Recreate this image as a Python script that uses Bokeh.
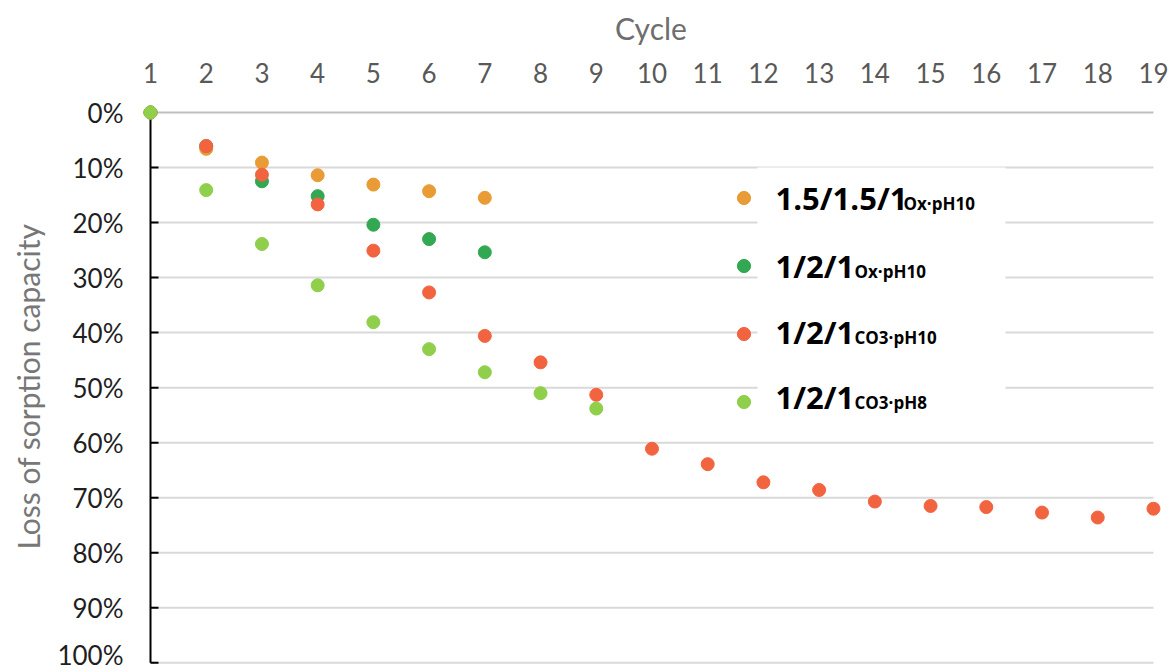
from bokeh.plotting import figure
from bokeh.models import (Range1d, FixedTicker, PrintfTickFormatter, Label,
                          BoxAnnotation, Legend, LegendItem)
from bokeh.embed import file_html
from bokeh.resources import INLINE

# ---------------- data ----------------
cycles = list(range(1, 20))
y_ticks = [0, 10, 20, 30, 40, 50, 60, 70, 80, 90, 100]

labels_main = ["1.5/1.5/1", "1/2/1", "1/2/1", "1/2/1"]
labels_sub = ["Ox·pH10", "Ox·pH10", "CO3·pH10", "CO3·pH8"]

loss_15_15_1_ox_ph10 = [0, 6.6, 9.1, 11.4, 13.1, 14.3, 15.5]
loss_1_2_1_ox_ph10 = [0, 6.1, 12.5, 15.2, 20.4, 23.0, 25.4]
loss_1_2_1_co3_ph10 = [0, 6.1, 11.3, 16.7, 25.1, 32.7, 40.6, 45.4, 51.3, 61.1,
                       63.9, 67.2, 68.6, 70.7, 71.5, 71.7, 72.7, 73.6, 72.0]
loss_1_2_1_co3_ph8 = [0, 14.1, 23.9, 31.4, 38.1, 43.0, 47.2, 51.0, 53.8]

series = [loss_15_15_1_ox_ph10, loss_1_2_1_ox_ph10, loss_1_2_1_co3_ph10, loss_1_2_1_co3_ph8]
colors = ["#E99B35", "#33A852", "#F26440", "#8FCF4B"]

# ---------------- layout ----------------
W, H = 1170, 670
ML, MR, MT, MB = 136, 5, 104, 2
PX_X = 55.72     # pixels per cycle
PX_Y = 5.503     # pixels per percent
ORIGIN_X, ORIGIN_Y = 150, 112   # canvas pixel of (cycle 1, 0%)
frame_w = W - ML - MR
frame_h = H - MT - MB
x_start = cycles[0] - (ORIGIN_X - ML) / PX_X
x_end = x_start + frame_w / PX_X
y_top = -(ORIGIN_Y - MT) / PX_Y
y_bottom = y_top + frame_h / PX_Y


def xd(px):
    return cycles[0] + (px - ORIGIN_X) / PX_X


def yd(py):
    return (py - ORIGIN_Y) / PX_Y


p = figure(width=W, height=H, x_range=Range1d(x_start, x_end),
           y_range=Range1d(y_bottom, y_top), x_axis_location="above",
           output_backend="svg", toolbar_location=None,
           min_border_left=ML, min_border_right=MR, min_border_top=MT, min_border_bottom=MB)
p.outline_line_color = None
p.grid.visible = False
p.background_fill_color = "white"
p.border_fill_color = "white"

AX_FONT = "Lato"

# x axis (top)
xa = p.xaxis[0]
xa.ticker = FixedTicker(ticks=cycles)
xa.axis_line_color = None
xa.major_tick_line_color = None
xa.minor_tick_line_color = None
xa.major_tick_in = 0
xa.major_tick_out = 0
xa.minor_tick_out = 0
xa.major_label_text_font = AX_FONT
xa.major_label_text_font_size = "26px"
xa.major_label_text_color = "#595959"
xa.major_label_standoff = 22
xa.axis_label = "Cycle"
xa.axis_label_text_font = AX_FONT
xa.axis_label_text_font_size = "30px"
xa.axis_label_text_font_style = "normal"
xa.axis_label_text_color = "#6e6e6e"
xa.axis_label_standoff = 14

# y axis (left)
ya = p.yaxis[0]
ya.ticker = FixedTicker(ticks=y_ticks)
ya.formatter = PrintfTickFormatter(format="%d%%")
ya.axis_line_color = None
ya.major_tick_line_color = None
ya.minor_tick_line_color = None
ya.major_tick_in = 0
ya.major_tick_out = 0
ya.minor_tick_out = 0
ya.major_label_text_font = AX_FONT
ya.major_label_text_font_size = "26px"
ya.major_label_text_color = "#1f1f1f"
ya.major_label_standoff = 13
ya.axis_label = "Loss of sorption capacity"
ya.axis_label_text_font = AX_FONT
ya.axis_label_text_font_size = "30px"
ya.axis_label_text_font_style = "normal"
ya.axis_label_text_color = "#777777"
ya.axis_label_standoff = 8

# gridlines from cycle 1 to cycle 19
grid_colors = ["#bfbfbf"] + ["#d9d9d9"] * (len(y_ticks) - 1)
p.segment(x0=[cycles[0]] * len(y_ticks), y0=y_ticks,
          x1=[cycles[-1]] * len(y_ticks), y1=y_ticks,
          line_color=grid_colors, line_width=2)
# axis rule at cycle 1 and inward ticks
p.segment(x0=[cycles[0]], y0=[y_ticks[0]], x1=[cycles[0]], y1=[y_ticks[-1]],
          line_color="black", line_width=2)
tick_len = 8 / PX_X
p.segment(x0=[cycles[0]] * (len(y_ticks) - 1), y0=y_ticks[1:],
          x1=[cycles[0] + tick_len] * (len(y_ticks) - 1), y1=y_ticks[1:],
          line_color="black", line_width=2)

renderers = []
for vals, c in zip(series, colors):
    r = p.scatter(cycles[:len(vals)], vals, size=13, fill_color=c, line_color=c)
    renderers.append(r)

# legend: white panel, markers from Legend, texts as labels
p.add_layout(BoxAnnotation(left=xd(757), right=xd(1005), top=yd(167), bottom=yd(425),
                           fill_color="white", fill_alpha=1.0, line_color=None))
legend = Legend(items=[LegendItem(label=" ", renderers=[r]) for r in renderers],
                location=(591, 246), orientation="vertical",
                glyph_width=33, glyph_height=33, label_standoff=18, spacing=27,
                padding=0, margin=0, border_line_color=None, background_fill_alpha=0,
                label_text_font="Open Sans", label_text_font_style="bold",
                label_text_font_size="30px", label_text_color="black", label_height=41)
p.add_layout(legend)

MAIN_SIZE, SUB_SIZE = 31, 17
main_x_px = 775
sub_x_px = [903, 854, 854, 854]
baseline_px = [210, 278, 344, 409]
for m, s, sx, by in zip(labels_main, labels_sub, sub_x_px, baseline_px):
    p.add_layout(Label(x=xd(main_x_px), y=yd(by - 0.39 * MAIN_SIZE), text=m, text_align="left",
                       text_baseline="alphabetic", text_font="Open Sans",
                       text_font_style="bold", text_font_size=f"{MAIN_SIZE}px", text_color="black"))
    p.add_layout(Label(x=xd(sx), y=yd(by - 0.39 * SUB_SIZE), text=s, text_align="left",
                       text_baseline="alphabetic", text_font="Open Sans",
                       text_font_style="bold", text_font_size=f"{SUB_SIZE}px", text_color="black"))

open("out.html", "w").write(file_html(p, INLINE))
